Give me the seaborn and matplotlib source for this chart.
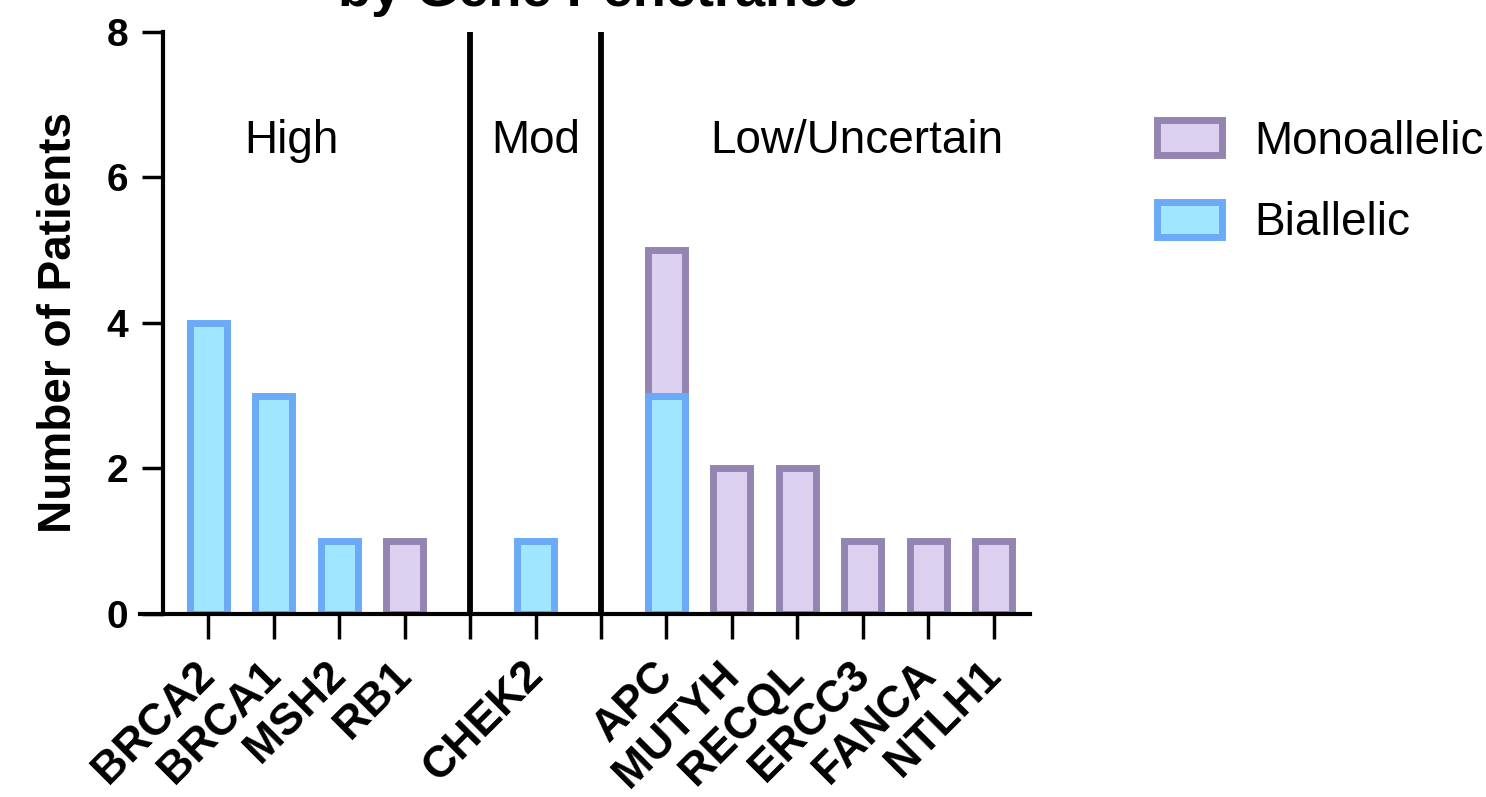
import numpy as np
import pandas as pd
import seaborn as sns
import matplotlib.pyplot as plt
import matplotlib.transforms as mtransforms
from matplotlib.patches import Patch

# data
genes = ["BRCA2", "BRCA1", "MSH2", "RB1", "CHEK2",
         "APC", "MUTYH", "RECQL", "ERCC3", "FANCA", "NTLH1"]
biallelic = [4, 3, 1, 0, 1, 3, 0, 0, 0, 0, 0]
monoallelic = [0, 0, 0, 1, 0, 2, 2, 2, 1, 1, 1]
# category order, with two empty slots where the group dividers sit
order = ["BRCA2", "BRCA1", "MSH2", "RB1", "sep1", "CHEK2", "sep2",
         "APC", "MUTYH", "RECQL", "ERCC3", "FANCA", "NTLH1"]
groups = ["High", "Mod", "Low/Uncertain"]
group_x = [1.28, 5.0, 9.9]
dividers = ["sep1", "sep2"]
yticks = [0, 2, 4, 6, 8]

bi_fill, bi_edge = "#a0e6fe", "#6aaaf6"
mono_fill, mono_edge = "#dbd0ef", "#9484b2"

df = pd.DataFrame({"gene": genes, "bi": biallelic, "mono": monoallelic})
df["total"] = df["bi"] + df["mono"]

sns.set_style("ticks")
plt.rcParams["font.family"] = ["Liberation Sans", "DejaVu Sans"]
plt.rcParams.update({"text.color": "black", "axes.labelcolor": "black",
                     "xtick.color": "black", "ytick.color": "black",
                     "axes.edgecolor": "black"})

fig = plt.figure(figsize=(14.86, 7.97), dpi=100)
ax = fig.add_axes([0.0942, 0.2296, 0.5989, 0.7304])

bar_w = 0.565
lw = 5
# monoallelic stacked on top: draw the total first, then biallelic over it
sns.barplot(data=df[df["mono"] > 0], x="gene", y="total", order=order,
            color=mono_fill, edgecolor=mono_edge, linewidth=lw,
            width=bar_w, saturation=1, errorbar=None, ax=ax)
sns.barplot(data=df[df["bi"] > 0], x="gene", y="bi", order=order,
            color=bi_fill, edgecolor=bi_edge, linewidth=lw,
            width=bar_w, saturation=1, errorbar=None, ax=ax)

for d in dividers:
    ax.axvline(order.index(d), color="black", lw=4.2, zorder=5)

for g, gx in zip(groups, group_x):
    ax.text(gx, 6.5, g, ha="center", va="center", fontsize=33)

sns.despine(ax=ax)
ax.spines["left"].set_position(("data", -0.69))
ax.spines["left"].set_linewidth(3)
ax.spines["bottom"].set_linewidth(3)

ax.set_xlim(-1.04, 12.55)
ax.set_ylim(0, 8)
ax.set_yticks(yticks)
ax.set_yticklabels([str(t) for t in yticks], fontsize=28, fontweight="bold")
ax.set_xticks(range(len(order)))
ax.set_xticklabels([o if o not in dividers else "" for o in order],
                   rotation=45, ha="right", va="top", rotation_mode="anchor",
                   fontsize=32, fontweight="bold")
ax.tick_params(axis="y", length=15, width=2.5, pad=10)
ax.tick_params(axis="x", length=18, width=2.5, pad=8)

# nudge the rotated gene names left/down so they sit like the original
shift = mtransforms.ScaledTranslation(-14 / 100, -4 / 100, fig.dpi_scale_trans)
for lab in ax.get_xticklabels():
    lab.set_transform(lab.get_transform() + shift)

ax.set_xlabel("")
ax.set_ylabel("Number of Patients", fontsize=33, fontweight="bold", labelpad=18)

handles = [Patch(facecolor=mono_fill, edgecolor=mono_edge, linewidth=lw, label="Monoallelic"),
           Patch(facecolor=bi_fill, edgecolor=bi_edge, linewidth=lw, label="Biallelic")]
fig.legend(handles=handles, loc="upper left", bbox_to_anchor=(0.7786, 0.85),
           frameon=False, fontsize=33, handlelength=1.42, handleheight=0.79,
           handletextpad=0.7, labelspacing=0.82, borderpad=0, borderaxespad=0)

fig.text(0.4024, 0.9925, "by Gene Penetrance", ha="center", va="baseline",
         fontsize=39, fontweight="bold")

fig.savefig("out.png", dpi=100)
